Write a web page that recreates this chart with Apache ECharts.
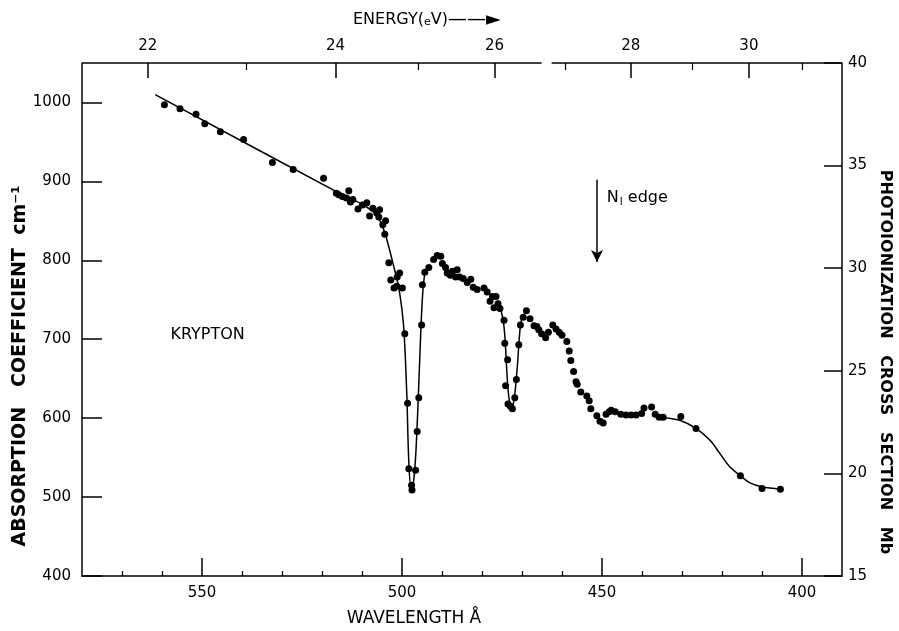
<!DOCTYPE html>
<html><head><meta charset="utf-8">
<script src="https://cdn.jsdelivr.net/npm/echarts@6/dist/echarts.min.js"></script>
<style>html,body{margin:0;padding:0;background:#fff}#c{width:899px;height:631px}</style>
</head><body><div id="c"></div>
<script>
// ---- axes ----
const wavelengthRange = [390, 580];          // Å (drawn reversed)
const absorptionRange = [400, 1050];         // cm^-1
const crossSectionRange = [15, 40];          // Mb
const wavelengthTicks = [550, 500, 450, 400];
const wavelengthMinorTicks = [570, 560, 540, 530, 520, 510, 490, 480, 470, 460, 440, 430, 420, 410];
const absorptionTicks = [400, 500, 600, 700, 800, 900, 1000];
const energyTicks = [22, 24, 26, 28, 30];
const energyMinorTicks = [23, 25, 27, 29, 31];
const HC = 12398.4;                          // eV·Å
const topAxisBreak = [465.1, 462.6];         // gap in the top axis line (Å)

// ---- measured points ----
const pointWavelength = [
  559.4, 555.5, 551.5, 549.3, 545.4, 539.6, 532.4, 527.2, 519.6, 516.4,
  515.8, 513.3, 514.9, 513.9, 512.9, 512.3, 511.0, 509.9, 508.8, 508.1,
  507.3, 506.3, 505.6, 505.8, 504.8, 504.1, 504.3, 503.3, 502.8, 502.0,
  501.2, 500.6, 501.3, 499.9, 499.3, 498.6, 498.3, 497.6, 497.5, 496.6,
  496.2, 495.8, 495.1, 494.9, 494.3, 493.3, 492.1, 491.2, 490.3, 489.9,
  489.1, 488.7, 487.9, 487.4, 486.6, 486.2, 485.6, 484.7, 483.7, 482.8,
  482.2, 481.2, 479.5, 478.7, 478.0, 477.4, 476.5, 477.0, 476.0, 475.5,
  474.5, 474.3, 473.6, 474.1, 473.5, 472.9, 472.4, 471.8, 471.4, 470.8,
  470.4, 469.7, 468.9, 468.0, 467.0, 466.3, 465.8, 465.1, 464.1, 463.4,
  462.3, 461.5, 460.7, 460.0, 458.8, 458.2, 457.8, 457.1, 456.5, 456.2,
  455.3, 453.8, 453.2, 452.8, 451.3, 450.5, 449.7, 449.0, 448.2, 447.7,
  446.7, 445.3, 444.0, 442.7, 441.5, 440.1, 439.5, 437.6, 436.7, 435.7,
  434.7, 430.3, 426.5, 415.4, 410.0, 405.4
];
const pointAbsorption = [
  997, 992, 985, 973, 963, 953, 924, 915, 904, 885,
  883, 888, 881, 879, 874, 877, 865, 870, 873, 856,
  866, 860, 864, 855, 845, 850, 833, 797, 775, 765,
  779, 784, 767, 765, 707, 619, 536, 515, 509, 534,
  583, 626, 718, 769, 785, 791, 801, 806, 805, 796,
  791, 784, 781, 786, 779, 788, 779, 777, 772, 776,
  766, 763, 765, 760, 748, 754, 754, 740, 745, 739,
  724, 695, 674, 641, 618, 615, 612, 626, 649, 693,
  718, 728, 736, 726, 717, 716, 712, 707, 702, 709,
  718, 713, 709, 705, 697, 685, 673, 659, 646, 643,
  633, 628, 622, 612, 603, 596, 594, 605, 608, 610,
  608, 605, 604, 604, 604, 606, 613, 614, 605, 601,
  601, 602, 587, 527, 511, 510
];

// ---- hand-drawn curve (three pieces) ----
const curve1Wavelength = [561.7, 516.4, 510.0, 506.5, 504.5, 503.2, 502.2, 501.0, 500.2, 499.5, 498.8, 498.3, 497.7, 497.1, 496.5, 495.9, 495.3, 494.8, 494.2];
const curve1Absorption = [1010, 887, 871, 858, 838, 815, 795, 770, 745, 710, 630, 545, 511, 520, 560, 630, 710, 760, 788];
const curve2Wavelength = [475.6, 474.7, 474.2, 473.9, 473.5, 473.0, 472.6, 472.1, 471.6, 471.1, 470.7, 470.3, 469.7];
const curve2Absorption = [742, 724, 697, 669, 637, 617, 612, 620, 640, 670, 700, 720, 731];
const curve3Wavelength = [436.3, 434.7, 430.4, 426.5, 423.0, 420.5, 418.0, 415.4, 413.0, 410.0, 405.4];
const curve3Absorption = [604, 601, 597, 587, 572, 555, 538, 527, 518, 513, 510];

// ---- annotations ----
const kryptonLabel = { text: 'KRYPTON', at: [548.6, 706] };
const edgeLabel = { at: [448.8, 879] };
const edgeArrow = { wavelength: 451.25, from: 902, to: 798 };

const zip = (a, b) => a.map((v, i) => [v, b[i]]);
const INK = '#000';
const FONT = 'DejaVu Sans';

const chart = echarts.init(document.getElementById('c'), null, { renderer: 'canvas' });

const baseX = {
  type: 'value', min: wavelengthRange[0], max: wavelengthRange[1], inverse: true,
  splitLine: { show: false }
};

const lineSeries = (name, xs, ys) => ({
  name, type: 'line', data: zip(xs, ys), showSymbol: false, smooth: 0.35,
  lineStyle: { color: INK, width: 1.5 }, z: 2, silent: true
});

chart.setOption({
  animation: false,
  backgroundColor: '#fff',
  grid: { left: 82, right: 57, top: 63, bottom: 55 },
  xAxis: [
    Object.assign({}, baseX, {
      position: 'bottom',
      axisLine: { show: true, lineStyle: { color: INK, width: 1.5 } },
      axisTick: { show: true, inside: true, length: 18, customValues: wavelengthTicks, lineStyle: { color: INK, width: 1.5 } },
      axisLabel: { customValues: wavelengthTicks, formatter: v => String(v), margin: 10, color: INK, fontSize: 15, fontFamily: FONT }
    }),
    Object.assign({}, baseX, {
      position: 'bottom',
      axisLine: { show: false },
      axisTick: { show: true, inside: true, length: 5, customValues: wavelengthMinorTicks, lineStyle: { color: INK, width: 1.2 } },
      axisLabel: { show: false }
    }),
    Object.assign({}, baseX, {
      position: 'top',
      axisLine: { show: false },
      axisTick: { show: true, inside: true, length: 15, customValues: energyTicks.map(e => HC / e), lineStyle: { color: INK, width: 1.5 } },
      axisLabel: { customValues: energyTicks.map(e => HC / e), formatter: v => String(Math.round(HC / v)), margin: 9, color: INK, fontSize: 15, fontFamily: FONT }
    }),
    Object.assign({}, baseX, {
      position: 'top',
      axisLine: { show: false },
      axisTick: { show: true, inside: true, length: 7, customValues: energyMinorTicks.map(e => HC / e), lineStyle: { color: INK, width: 1.2 } },
      axisLabel: { show: false }
    })
  ],
  yAxis: [
    {
      type: 'value', position: 'left', min: absorptionRange[0], max: absorptionRange[1],
      splitLine: { show: false },
      axisLine: { show: true, lineStyle: { color: INK, width: 1.5 } },
      axisTick: { show: true, inside: true, length: 20, customValues: absorptionTicks, lineStyle: { color: INK, width: 1.5 } },
      axisLabel: { customValues: absorptionTicks, formatter: v => String(v), margin: 11, color: INK, fontSize: 15, fontFamily: FONT }
    },
    {
      type: 'value', position: 'right', min: crossSectionRange[0], max: crossSectionRange[1], interval: 5,
      splitLine: { show: false },
      axisLine: { show: true, lineStyle: { color: INK, width: 1.5 } },
      axisTick: { show: true, inside: true, length: 18, lineStyle: { color: INK, width: 1.5 } },
      axisLabel: { formatter: v => String(v), margin: 6, color: INK, fontSize: 15, fontFamily: FONT }
    }
  ],
  series: [
    {
      name: 'measured', type: 'scatter', data: zip(pointWavelength, pointAbsorption),
      symbol: 'circle', symbolSize: 7, itemStyle: { color: INK, opacity: 1 }, z: 3, silent: true
    },
    lineSeries('curve1', curve1Wavelength, curve1Absorption),
    lineSeries('curve2', curve2Wavelength, curve2Absorption),
    lineSeries('curve3', curve3Wavelength, curve3Absorption),
    {
      name: 'topBorderA', type: 'line', clip: false, showSymbol: false, silent: true,
      data: [[wavelengthRange[1], absorptionRange[1]], [topAxisBreak[0], absorptionRange[1]]],
      lineStyle: { color: INK, width: 1.5 }
    },
    {
      name: 'topBorderB', type: 'line', clip: false, showSymbol: false, silent: true,
      data: [[topAxisBreak[1], absorptionRange[1]], [wavelengthRange[0], absorptionRange[1]]],
      lineStyle: { color: INK, width: 1.5 }
    },
    {
      name: 'annotations', type: 'scatter', symbolSize: 0, silent: true,
      itemStyle: { opacity: 1 },
      data: [
        { value: kryptonLabel.at, label: { show: true, position: 'inside', formatter: kryptonLabel.text, color: INK, opacity: 1, fontSize: 16, fontFamily: FONT } },
        { value: edgeLabel.at, label: {
            show: true, position: 'right', distance: 0, color: INK, opacity: 1, fontFamily: FONT,
            formatter: '{n|N}{s|I}{n| edge}',
            rich: { n: { fontSize: 16, fontFamily: FONT, color: INK }, s: { fontSize: 10, fontFamily: FONT, color: INK, verticalAlign: 'bottom', padding: [8, 0, 0, 1] } }
          } }
      ],
      markLine: {
        silent: true, animation: false,
        symbol: ['none', 'arrow'], symbolSize: [9, 12],
        lineStyle: { color: INK, width: 1.5, type: 'solid', opacity: 1 },
        itemStyle: { color: INK },
        label: { show: false },
        data: [[
          { coord: [edgeArrow.wavelength, edgeArrow.from] },
          { coord: [edgeArrow.wavelength, edgeArrow.to] }
        ]]
      }
    }
  ],
  graphic: [
    {
      type: 'text', x: 20, y: 366, rotation: Math.PI / 2,
      style: { text: 'ABSORPTION   COEFFICIENT  cm⁻¹', font: 'bold 19px "DejaVu Sans"', fill: INK, align: 'center', verticalAlign: 'middle' }
    },
    {
      type: 'text', x: 885, y: 362, rotation: -Math.PI / 2,
      style: { text: 'PHOTOIONIZATION   CROSS   SECTION   Mb', font: 'bold 16px "DejaVu Sans"', fill: INK, align: 'center', verticalAlign: 'middle' }
    },
    {
      type: 'text', x: 414, y: 619,
      style: { text: 'WAVELENGTH Å', font: '17px "DejaVu Sans"', fill: INK, align: 'center', verticalAlign: 'middle' }
    },
    {
      type: 'text', x: 353, y: 20,
      style: {
        text: '{a|ENERGY(}{e|e}{a|V)}{r|——►}', align: 'left', verticalAlign: 'middle',
        rich: {
          a: { font: '16px "DejaVu Sans"', fill: INK },
          e: { font: '11px "DejaVu Sans"', fill: INK, padding: [5, 0, 0, 0] },
          r: { font: '19px "DejaVu Sans"', fill: INK }
        }
      }
    }
  ]
});
</script></body></html>
